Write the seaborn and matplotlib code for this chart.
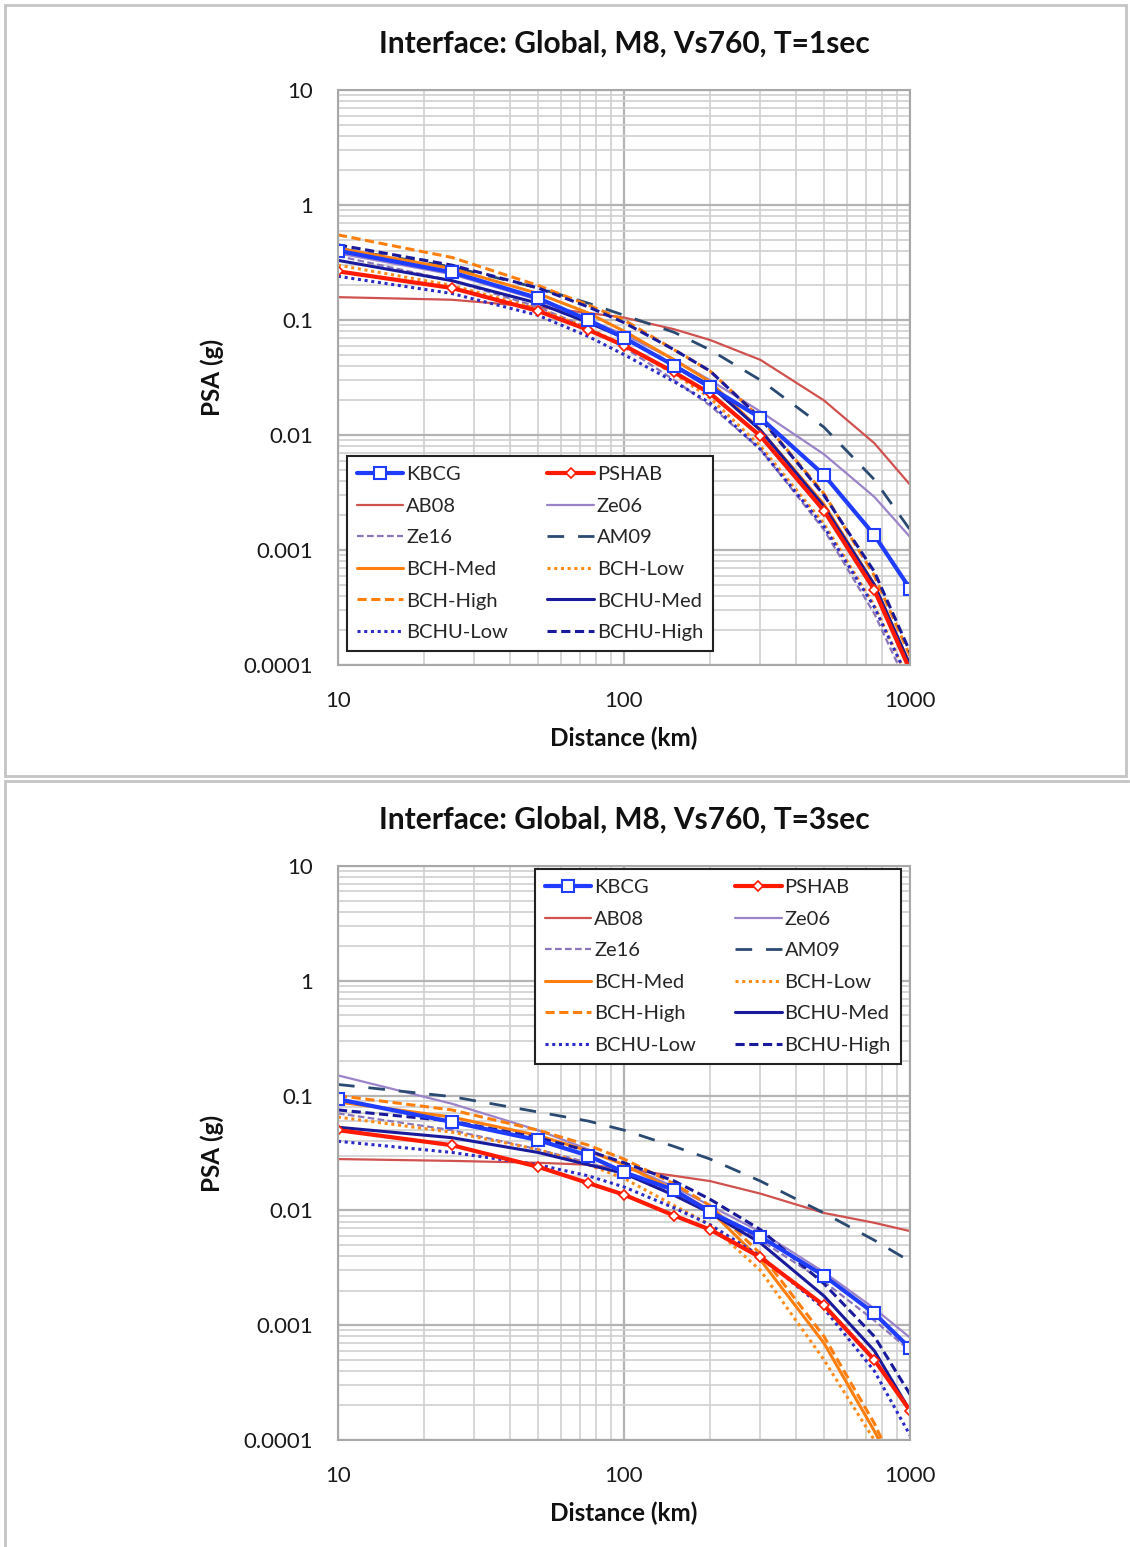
import numpy as np
import pandas as pd
import matplotlib
matplotlib.use("Agg")
import matplotlib.pyplot as plt
import seaborn as sns
from matplotlib.ticker import FixedLocator, FixedFormatter, LogLocator, NullFormatter
from matplotlib.patches import Rectangle

sns.set_theme(style="white")
plt.rcParams['font.family'] = ['Lato', 'DejaVu Sans']

distance = [10, 25, 50, 75, 100, 150, 200, 300, 500, 750, 1000]

titles = ["Interface: Global, M8, Vs760, T=1sec", "Interface: Global, M8, Vs760, T=3sec"]
ytick_values = [0.0001, 0.001, 0.01, 0.1, 1, 10]
ytick_labels = ["0.0001", "0.001", "0.01", "0.1", "1", "10"]
xtick_values = [10, 100, 1000]
xtick_labels = ["10", "100", "1000"]

# ---- T = 1 sec ----
t1_kbcg = [0.40, 0.26, 0.155, 0.10, 0.07, 0.04, 0.026, 0.0141, 0.0045, 0.00135, 0.00046]
t1_pshab = [0.265, 0.19, 0.12, 0.082, 0.06, 0.035, 0.023, 0.0098, 0.0022, 0.00045, 0.00009]
t1_ab08 = [0.158, 0.15, 0.13, 0.115, 0.105, 0.083, 0.067, 0.045, 0.020, 0.0085, 0.0037]
t1_ze06 = [0.38, 0.25, 0.15, 0.10, 0.075, 0.045, 0.030, 0.016, 0.0068, 0.0029, 0.0013]
t1_ze16 = [0.36, 0.22, 0.13, 0.085, 0.058, 0.030, 0.018, 0.0075, 0.0015, 0.00028, 0.00006]
t1_am09 = [0.42, 0.29, 0.19, 0.14, 0.11, 0.078, 0.055, 0.030, 0.0117, 0.0041, 0.0015]
t1_bch_med = [0.42, 0.28, 0.17, 0.115, 0.08, 0.045, 0.029, 0.011, 0.0025, 0.0005, 0.0001]
t1_bch_low = [0.30, 0.20, 0.125, 0.085, 0.06, 0.034, 0.021, 0.0080, 0.0017, 0.00033, 0.00007]
t1_bch_high = [0.55, 0.35, 0.20, 0.135, 0.10, 0.055, 0.036, 0.0140, 0.0031, 0.0006, 0.00012]
t1_bchu_med = [0.33, 0.22, 0.14, 0.095, 0.07, 0.040, 0.027, 0.011, 0.0024, 0.0005, 0.0001]
t1_bchu_low = [0.24, 0.17, 0.11, 0.072, 0.05, 0.029, 0.019, 0.0075, 0.0016, 0.00032, 0.00007]
t1_bchu_high = [0.45, 0.30, 0.19, 0.13, 0.095, 0.055, 0.036, 0.0140, 0.0030, 0.00065, 0.00013]

# ---- T = 3 sec ----
t3_kbcg = [0.093, 0.059, 0.041, 0.030, 0.0215, 0.015, 0.0097, 0.0059, 0.0027, 0.00127, 0.00063]
t3_pshab = [0.050, 0.037, 0.024, 0.0173, 0.0137, 0.009, 0.0068, 0.0039, 0.00149, 0.0005, 0.00018]
t3_ab08 = [0.028, 0.027, 0.026, 0.025, 0.023, 0.020, 0.018, 0.014, 0.0095, 0.0078, 0.0066]
t3_ze06 = [0.15, 0.085, 0.05, 0.034, 0.025, 0.016, 0.011, 0.0065, 0.0029, 0.0014, 0.00078]
t3_ze16 = [0.070, 0.050, 0.034, 0.026, 0.021, 0.014, 0.0095, 0.0055, 0.0024, 0.0011, 0.0006]
t3_am09 = [0.125, 0.098, 0.072, 0.060, 0.050, 0.036, 0.028, 0.018, 0.0095, 0.0055, 0.0036]
t3_bch_med = [0.088, 0.065, 0.045, 0.033, 0.025, 0.015, 0.010, 0.0037, 0.0007, 0.00012, 0.00003]
t3_bch_low = [0.065, 0.048, 0.034, 0.025, 0.019, 0.011, 0.0075, 0.0030, 0.0005, 0.0001, 0.00002]
t3_bch_high = [0.100, 0.075, 0.050, 0.037, 0.028, 0.017, 0.011, 0.0042, 0.0008, 0.00014, 0.00003]
t3_bchu_med = [0.053, 0.043, 0.032, 0.025, 0.021, 0.0135, 0.0095, 0.0052, 0.0018, 0.0006, 0.00018]
t3_bchu_low = [0.040, 0.032, 0.025, 0.020, 0.016, 0.0105, 0.0075, 0.0040, 0.0014, 0.0004, 0.00011]
t3_bchu_high = [0.075, 0.060, 0.043, 0.033, 0.026, 0.018, 0.0125, 0.0068, 0.0023, 0.0008, 0.00025]

names = ["KBCG", "PSHAB", "AB08", "Ze06", "Ze16", "AM09",
         "BCH-Med", "BCH-Low", "BCH-High", "BCHU-Med", "BCHU-Low", "BCHU-High"]
t1_series = [t1_kbcg, t1_pshab, t1_ab08, t1_ze06, t1_ze16, t1_am09,
             t1_bch_med, t1_bch_low, t1_bch_high, t1_bchu_med, t1_bchu_low, t1_bchu_high]
t3_series = [t3_kbcg, t3_pshab, t3_ab08, t3_ze06, t3_ze16, t3_am09,
             t3_bch_med, t3_bch_low, t3_bch_high, t3_bchu_med, t3_bchu_low, t3_bchu_high]

styles = {
    "KBCG": dict(color="#1f3cff", lw=3.0, ls="-", marker="s", ms=8, mfc="white", mec="#1f3cff", mew=1.5),
    "PSHAB": dict(color="#ff1a00", lw=3.0, ls="-", marker="D", ms=5, mfc="white", mec="#ff1a00", mew=1.2),
    "AB08": dict(color="#d0524f", lw=1.6, ls="-"),
    "Ze06": dict(color="#9b83c9", lw=1.6, ls="-"),
    "Ze16": dict(color="#8a76b8", lw=1.6, ls=(0, (3, 1.5))),
    "AM09": dict(color="#2b4a72", lw=2.0, ls=(0, (6, 5))),
    "BCH-Med": dict(color="#ff7f0e", lw=2.2, ls="-"),
    "BCH-Low": dict(color="#ff8c1a", lw=2.2, ls=(0, (1, 1.2))),
    "BCH-High": dict(color="#ff7f0e", lw=2.2, ls=(0, (3, 1.5))),
    "BCHU-Med": dict(color="#1a1a9c", lw=2.2, ls="-"),
    "BCHU-Low": dict(color="#2b2bc8", lw=2.2, ls=(0, (1, 1.2))),
    "BCHU-High": dict(color="#1a1a9c", lw=2.2, ls=(0, (3, 1.5))),
}

draw_order = ["AB08", "Ze06", "Ze16", "AM09", "BCH-Low", "BCH-High", "BCH-Med",
              "BCHU-Low", "BCHU-High", "BCHU-Med", "PSHAB", "KBCG"]

W, H = 1130, 1547
fig = plt.figure(figsize=(W / 100, H / 100), dpi=100)

# panel frames
for (x0, y0, x1, y1) in [(5, 5, 1126, 776), (5, 781, 1140, 1560)]:
    fig.patches.append(Rectangle((x0 / W, 1 - y1 / H), (x1 - x0) / W, (y1 - y0) / H,
                                 transform=fig.transFigure, fill=False,
                                 edgecolor="#c4c4c4", lw=2.0))

ax_pos = [(338, 90, 910, 665), (338, 866, 910, 1440)]
legend_anchor = [(0.0157, 0.3635), (0.344, 0.995)]
all_series = [t1_series, t3_series]

for k in range(2):
    x0, y0, x1, y1 = ax_pos[k]
    ax = fig.add_axes([x0 / W, 1 - y1 / H, (x1 - x0) / W, (y1 - y0) / H])
    data = dict(zip(names, all_series[k]))
    for nm in draw_order:
        st = dict(styles[nm])
        kw = dict(color=st["color"], linewidth=st["lw"], linestyle=st["ls"])
        if "marker" in st:
            kw.update(marker=st["marker"], markersize=st["ms"], markerfacecolor=st["mfc"],
                      markeredgecolor=st["mec"], markeredgewidth=st["mew"])
        sns.lineplot(x=distance, y=data[nm], ax=ax, label=nm, legend=False, **kw)
    ax.set_xscale("log")
    ax.set_yscale("log")
    ax.set_xlim(10, 1000)
    ax.set_ylim(1e-4, 10)
    ax.xaxis.set_major_locator(FixedLocator(xtick_values))
    ax.xaxis.set_major_formatter(FixedFormatter(xtick_labels))
    ax.yaxis.set_major_locator(FixedLocator(ytick_values))
    ax.yaxis.set_major_formatter(FixedFormatter(ytick_labels))
    ax.xaxis.set_minor_locator(LogLocator(base=10, subs=np.arange(2, 10)))
    ax.yaxis.set_minor_locator(LogLocator(base=10, subs=np.arange(2, 10)))
    ax.xaxis.set_minor_formatter(NullFormatter())
    ax.yaxis.set_minor_formatter(NullFormatter())
    ax.grid(True, which="major", color="#b4b4b4", lw=1.6)
    ax.grid(True, which="minor", color="#d0d0d0", lw=1.2)
    ax.set_axisbelow(True)
    for sp in ax.spines.values():
        sp.set_color("#a8a8a8")
        sp.set_linewidth(1.5)
    ax.tick_params(axis="y", which="major", labelsize=16, pad=15, length=3,
                   color="#a8a8a8", labelcolor="#1a1a1a")
    ax.tick_params(axis="x", which="major", labelsize=16, pad=16, length=3,
                   color="#a8a8a8", labelcolor="#1a1a1a")
    ax.tick_params(axis="both", which="minor", length=0)
    ax.set_title(titles[k], fontsize=21.5, fontweight="bold", pad=27, color="#111111")
    ax.set_xlabel("Distance (km)", fontsize=17.5, fontweight="bold", labelpad=11, color="#111111")
    ax.set_ylabel("PSA (g)", fontsize=17.5, fontweight="bold", labelpad=14, color="#111111")

    # legend, row-major ordering in two columns
    col1 = ["KBCG", "AB08", "Ze16", "BCH-Med", "BCH-High", "BCHU-Low"]
    col2 = ["PSHAB", "Ze06", "AM09", "BCH-Low", "BCHU-Med", "BCHU-High"]
    hmap = {l.get_label(): l for l in ax.get_lines()}
    order = col1 + col2
    leg = ax.legend([hmap[n] for n in order], order, ncol=2, loc="upper left",
                    bbox_to_anchor=legend_anchor[k], borderaxespad=0, fontsize=14.5,
                    frameon=True, fancybox=False, edgecolor="#222222", framealpha=1,
                    handlelength=2.3, handletextpad=0.15, columnspacing=1.95,
                    labelspacing=0.72, borderpad=0.5)
    leg.get_frame().set_linewidth(1.5)

fig.savefig("out.png", dpi=100, facecolor="white")
